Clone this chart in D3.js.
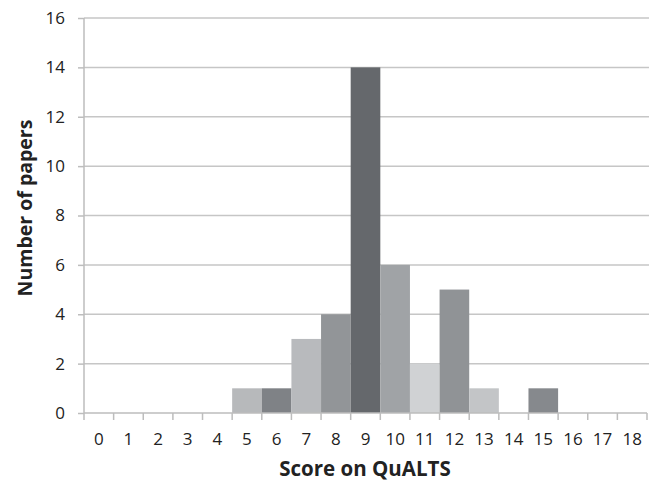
<!DOCTYPE html>
<html><head><meta charset="utf-8">
<script src="https://cdn.jsdelivr.net/npm/d3@7"></script>
<style>body{margin:0;background:#fff}svg{display:block}</style>
</head><body>
<script>
const categories = ["0","1","2","3","4","5","6","7","8","9","10","11","12","13","14","15","16","17","18"];
const values = [0,0,0,0,0,1,1,3,4,14,6,2,5,1,0,1,0,0,0];
const barColors = ["#b5b7b9","#b5b7b9","#b5b7b9","#b5b7b9","#b5b7b9","#b7b9bb","#7f8286","#b8babd","#929598","#65686c","#a0a3a6","#d0d2d4","#909396","#c3c5c7","#b5b7b9","#86898d","#b5b7b9","#b5b7b9","#b5b7b9"];
const yTicks = [0,2,4,6,8,10,12,14,16];

const W=653,H=483;
const m={left:84};
const svg=d3.select("body").append("svg").attr("width",W).attr("height",H);
const x=d3.scaleBand().domain(categories).range([m.left,647]).padding(0);
const y=d3.scaleLinear().domain([0,16]).range([413,18]);
const font="'Open Sans', sans-serif";

// gridlines
svg.append("g").selectAll("line").data(yTicks.filter(d=>d>0)).join("line")
  .attr("x1",m.left).attr("x2",649).attr("y1",d=>y(d)).attr("y2",d=>y(d))
  .attr("stroke","#c6c6c6").attr("stroke-width",1.5);

// bars
svg.append("g").selectAll("rect").data(values.map((v,i)=>({c:categories[i],v,col:barColors[i]})).filter(d=>d.v>0)).join("rect")
  .attr("x",d=>x(d.c)).attr("width",x.bandwidth())
  .attr("y",d=>y(d.v)).attr("height",d=>y(0)-y(d.v))
  .attr("fill",d=>d.col);

// y axis
const ya=svg.append("g").attr("transform",`translate(${m.left},0)`)
  .call(d3.axisLeft(y).tickValues(yTicks).tickSize(6).tickPadding(13));
ya.select(".domain").attr("stroke","#bdbdbd").attr("stroke-width",1.5).attr("d",`M0,${y(0)}V${y(16)}`);
ya.selectAll(".tick line").attr("stroke","#bdbdbd").attr("stroke-width",1.5);
ya.selectAll("text").attr("font-family",font).attr("font-size",17).attr("fill","#222");

// x axis
const xa=svg.append("g").attr("transform",`translate(0,${y(0)})`)
  .call(d3.axisBottom(x).tickSize(0).tickPadding(20));
xa.select(".domain").attr("stroke","#bdbdbd").attr("stroke-width",1.5).attr("d",`M${m.left},0H647`);
xa.selectAll("text").attr("font-family",font).attr("font-size",17).attr("fill","#222");
// boundary ticks
const bounds=categories.map(c=>x(c)).concat([x(categories[categories.length-1])+x.bandwidth()]);
xa.append("g").selectAll("line").data(bounds).join("line")
  .attr("x1",d=>d).attr("x2",d=>d).attr("y1",0).attr("y2",7)
  .attr("stroke","#bdbdbd").attr("stroke-width",1.5);

// titles
svg.append("text").attr("x",365).attr("y",476).attr("text-anchor","middle")
  .attr("font-family",font).attr("font-weight","bold").attr("font-size",20.5).attr("fill","#222")
  .text("Score on QuALTS");
svg.append("text").attr("transform","translate(32,208) rotate(-90)").attr("text-anchor","middle")
  .attr("font-family",font).attr("font-weight","bold").attr("font-size",19.5).attr("fill","#222")
  .text("Number of papers");
</script>
</body></html>
